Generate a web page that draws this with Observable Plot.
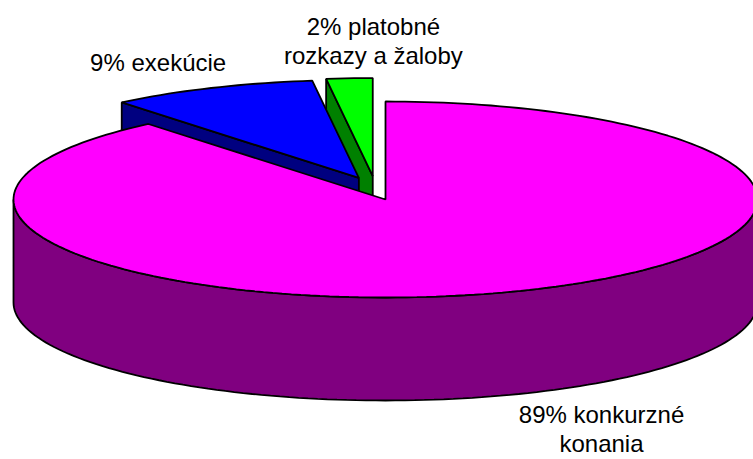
<!DOCTYPE html>
<html><head><meta charset="utf-8">
<script src="https://cdn.jsdelivr.net/npm/d3@7"></script>
<script src="https://cdn.jsdelivr.net/npm/@observablehq/plot@0.6"></script>
<style>html,body{margin:0;padding:0;background:#fff;overflow:hidden;}</style>
</head><body><div id="chart"></div>
<script>
// ---- data ----
const categories = ["konkurzné konania", "exekúcie", "platobné rozkazy a žaloby"];
const shares = [89, 9, 2];
const labels = ["89% konkurzné\nkonania", "9% exekúcie", "2% platobné\nrozkazy a žaloby"];
const exploded = [false, true, true];

// ---- styles / layout ----
const topColors = ["#FF00FF", "#0000FF", "#00FF00"];
const sideColors = ["#800080", "#000080", "#008000"];
const W = 753, H = 459;
const CX = 385, CY = 199, RX = 372, RY = 98, DEPTH = 103;
const EXPLODE_X = 44, EXPLODE_SHEAR = 10, EXPLODE_Y = 23.5;
const labelOffsets = [[90, 57], [-53, -17], [24, -14]];

const total = d3.sum(shares);
let acc = 0;
const slices = shares.map((v, i) => {
  const a0 = acc / total * 2 * Math.PI; acc += v;
  const a1 = acc / total * 2 * Math.PI;
  const m = (a0 + a1) / 2;
  const ox = exploded[i] ? (EXPLODE_X * Math.sin(m) - EXPLODE_SHEAR * Math.cos(m)) / RX : 0;
  const oy = exploded[i] ? EXPLODE_Y * Math.cos(m) / RY : 0;
  return {i, a0, a1, m, ox, oy};
});
const D = DEPTH / RY;
const pt = (s, a, level) => ({x: s.ox + Math.sin(a), y: s.oy + Math.cos(a) - level * D});
const apex = (s, level) => ({x: s.ox, y: s.oy - level * D});
function arc(s, from, to, level) {
  const n = Math.max(2, Math.ceil(Math.abs(to - from) / (2 * Math.PI) * 240));
  return d3.range(n + 1).map(k => pt(s, from + (to - from) * k / n, level));
}
const faces = [];
let fid = 0;
function addFace(points, fill, s) {
  const id = fid++;
  points.forEach(p => faces.push({...p, face: id, fill, category: categories[s.i]}));
}
const order = slices.slice().sort((a, b) => Math.cos(b.m) - Math.cos(a.m));
for (const s of order) {
  if (Math.sin(s.a0) < -1e-9) addFace([apex(s, 0), pt(s, s.a0, 0), pt(s, s.a0, 1), apex(s, 1)], sideColors[s.i], s);
  if (Math.sin(s.a1) > 1e-9) addFace([apex(s, 0), pt(s, s.a1, 0), pt(s, s.a1, 1), apex(s, 1)], sideColors[s.i], s);
  const r0 = Math.max(s.a0, Math.PI / 2), r1 = Math.min(s.a1, 3 * Math.PI / 2);
  if (r1 > r0) addFace([...arc(s, r0, r1, 0), ...arc(s, r1, r0, 1)], sideColors[s.i], s);
  addFace([apex(s, 0), ...arc(s, s.a0, s.a1, 0)], topColors[s.i], s);
}
const labelRows = slices.map(s => {
  const front = Math.cos(s.m) < 0;
  const p = pt(s, s.m, front ? 1 : 0);
  const [dx, dy] = labelOffsets[s.i];
  return {x: p.x + dx / RX, y: p.y - dy / RY, text: labels[s.i]};
});

const chart = Plot.plot({
  width: W, height: H, margin: 0,
  x: {domain: [-1, 1], range: [CX - RX, CX + RX], axis: null},
  y: {domain: [-1, 1], range: [CY + RY, CY - RY], axis: null},
  color: {type: "identity"},
  style: {background: "white"},
  marks: [
    Plot.line(faces, {x: "x", y: "y", z: "face", fill: "fill", stroke: "black", strokeWidth: 1.8, curve: "linear-closed", strokeLinejoin: "miter"}),
    Plot.text(labelRows, {x: "x", y: "y", text: "text", fontSize: 24, fontFamily: "'Liberation Sans', Arial, sans-serif", lineAnchor: "bottom", lineHeight: 29 / 24, textAnchor: "middle", fill: "black"})
  ]
});
document.getElementById("chart").appendChild(chart);
</script>
</body></html>
